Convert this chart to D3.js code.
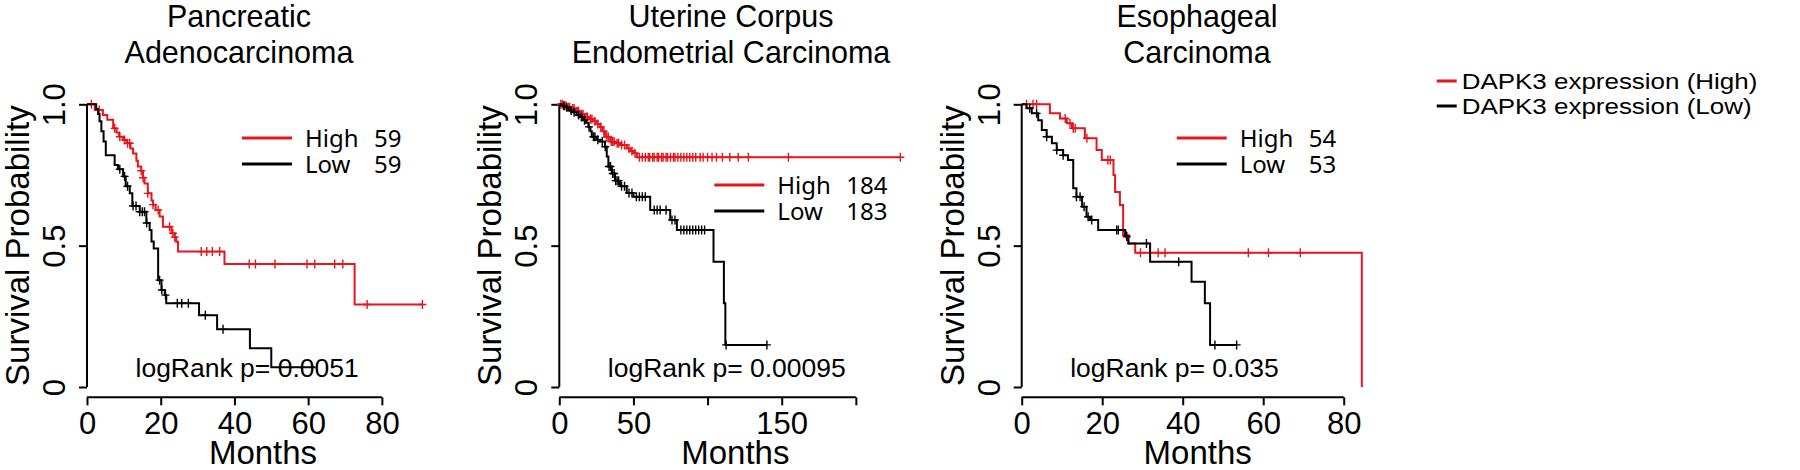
<!DOCTYPE html>
<html>
<head>
<meta charset="utf-8">
<script src="https://cdn.jsdelivr.net/npm/d3@7"></script>
<style>
body { margin:0; background:#fff; }
text { font-family:"Liberation Sans", Arial, sans-serif; fill:#000; }
</style>
</head>
<body>
<div id="chart"></div>
<script>
// ---- data ----
var titles = [["Pancreatic","Adenocarcinoma"], ["Uterine Corpus","Endometrial Carcinoma"], ["Esophageal","Carcinoma"]];
var groupNames = ["High", "Low"];
var groupCounts = [[59, 59], [184, 183], [54, 53]];
var pValues = ["0.0051", "0.00095", "0.035"];
var xTicks = [[0,20,40,60,80], [0,50,100,150,200], [0,20,40,60,80]];
var xTickLabels = [["0","20","40","60","80"], ["0","50","","150",""], ["0","20","40","60","80"]];
var xLimits = [95.5, 237.4, 87.45];
var yTicks = [0, 0.5, 1];
var yTickLabels = ["0", "0.5", "1.0"];
var legendLabels = ["DAPK3 expression (High)", "DAPK3 expression (Low)"];

// [month, survival after the step]
var highSteps1 = [[0,1],[2.1,0.98],[4.3,0.962],[5.5,0.945],[7.1,0.915],[8,0.9],[8.7,0.885],[9.8,0.874],[10.8,0.862],[11.8,0.844],[12.5,0.826],[13.4,0.8],[13.8,0.78],[14.7,0.765],[15.2,0.74],[15.6,0.72],[16.5,0.685],[17.5,0.66],[17.9,0.645],[18.6,0.626],[19.7,0.603],[20.6,0.567],[22.9,0.544],[23.8,0.53],[24.2,0.514],[24.7,0.479],[37.3,0.435],[72.6,0.292]];
var highEnd1 = 91;
var highCensor1 = [1.2,3.3,7.5,8.9,10.2,11,11.6,14.7,15.2,16.5,17.9,19.3,22.4,23.3,23.8,31,32.5,34,36,44,45.7,51,59.7,61.8,67.2,69.4,76,91];
var lowSteps1 = [[0,1],[2.5,0.983],[3,0.966],[3.4,0.94],[3.9,0.905],[4.5,0.868],[5.1,0.82],[7.5,0.785],[8.4,0.77],[9.8,0.745],[10.5,0.71],[11.6,0.685],[12.3,0.64],[14.3,0.62],[16.1,0.58],[17,0.555],[17.5,0.515],[18.1,0.49],[19.3,0.378],[20.2,0.343],[21.1,0.325],[21.5,0.296],[30.4,0.254],[35.3,0.204],[44.2,0.137],[50,0.07]];
var lowEnd1 = 62;
var lowCensor1 = [8.9,10.2,11,12.5,13.3,14.3,15,15.6,16.2,19.7,20.3,21.3,24.5,25.7,27.5,32.1,36.9];

var highSteps2 = [[0,1],[3,0.995],[5,0.99],[8,0.985],[11,0.975],[14,0.965],[17,0.955],[20,0.948],[23,0.94],[25,0.93],[27.5,0.92],[29,0.905],[30.9,0.885],[34.3,0.868],[38,0.862],[41,0.856],[45.5,0.844],[48,0.835],[50,0.827],[52.3,0.8125]];
var highEnd2 = 230;
var highCensor2 = [1,2,3.5,4.5,6,7,9,10,12,13,15,16,18,19,21,22,24,26,28,30,32,33,35,36,37,39,40,42,44,47,49,51,54,56,58,60,61,63,64,66,67,69,70,72,73,75,77,78,80,82,84,86,88,90,92,95,97,100,103,106,110,115,120.7,127.5,154.5,230];
var lowSteps2 = [[0,1],[2,0.995],[4,0.99],[6,0.984],[7.2,0.978],[9,0.972],[11.7,0.962],[14,0.955],[16.2,0.944],[18,0.935],[19.6,0.92],[21,0.905],[21.9,0.885],[25,0.875],[27.5,0.868],[30.9,0.85],[32,0.815],[33.1,0.78],[35.4,0.755],[37.6,0.73],[41,0.71],[45.5,0.686],[50,0.673],[61.3,0.626],[74.8,0.591],[79.3,0.555],[104,0.443],[111,0.296],[112,0.149]];
var lowEnd2 = 140;
var lowCensor2 = [3,5,8,10,13,15,17,20,23,24,26,29,31,33.5,34.5,36,37,38,39,40,42,44,47,49,52,54,56,58,64,66,68,72,76,78,82,84,86,88,90,92,94,96,98,112.5,140];

var highSteps3 = [[0,1],[7,0.968],[9.5,0.95],[11.2,0.933],[12.5,0.915],[15.7,0.88],[18.6,0.838],[19.9,0.803],[22.8,0.75],[23.2,0.69],[24.4,0.644],[25.2,0.537],[26.5,0.508],[28.2,0.475],[84.5,0]];
var highEnd3 = 84.5;
var highCensor3 = [1.2,2.8,3.7,10.8,12,12.8,13.3,16.2,21.4,22,26,29.5,33.9,35.6,56.3,61.3,69.2];
var lowSteps3 = [[0,1],[1.2,0.986],[2.5,0.968],[4.1,0.944],[5,0.909],[6.2,0.885],[7.5,0.862],[8.7,0.838],[10.3,0.82],[11.5,0.803],[12.8,0.703],[13.6,0.673],[15,0.638],[16.1,0.602],[17,0.591],[19,0.555],[25.7,0.532],[26.5,0.508],[31.9,0.443],[42.2,0.372],[45.5,0.296],[46.8,0.149]];
var lowEnd3 = 53.4;
var lowCensor3 = [2,3.7,6.2,8.7,10.3,13.6,14.5,15.5,16.5,17.4,23.6,24,26.1,31,39,48,53.4];

var curves = [
  [{steps:highSteps1, end:highEnd1, censor:highCensor1}, {steps:lowSteps1, end:lowEnd1, censor:lowCensor1}],
  [{steps:highSteps2, end:highEnd2, censor:highCensor2}, {steps:lowSteps2, end:lowEnd2, censor:lowCensor2}],
  [{steps:highSteps3, end:highEnd3, censor:highCensor3}, {steps:lowSteps3, end:lowEnd3, censor:lowCensor3}]
];

// ---- layout ----
var colors = ["#e5161d", "#000"];
var panelX = [87, 559.3, 1021.7];
var titleX = [239, 731, 1197];
var legendY = [138, 185, 138];
var plotW = 352;
var yTop = 104.3, yBottom = 387, xAxisY = 397.3;

var svg = d3.select("#chart").append("svg")
    .attr("width", 1800)
    .attr("height", 470);
svg.append("rect").attr("width", 1800).attr("height", 470).attr("fill", "#fff");

var y = d3.scaleLinear().domain([0, 1]).range([yBottom, yTop]);

function survAt(steps, t) {
  var s = steps[0][1];
  steps.forEach(function(d) { if (d[0] <= t) s = d[1]; });
  return s;
}

titles.forEach(function(title, i) {
  var g = svg.append("g").attr("transform", "translate(" + panelX[i] + ",0)");
  var x = d3.scaleLinear().domain([0, xLimits[i]]).range([0, plotW]);

  // title
  title.forEach(function(line, k) {
    g.append("text")
      .attr("x", titleX[i] - panelX[i])
      .attr("y", 26.7 + k * 36.7)
      .attr("text-anchor", "middle")
      .style("font-size", "30.5px")
      .text(line);
  });

  // y axis
  var yAxis = g.append("g")
      .call(d3.axisLeft(y).tickValues(yTicks).tickSize(8).tickFormat(function(d, j) { return yTickLabels[j]; }));
  yAxis.select(".domain").attr("d", "M0," + y(0) + "V" + y(1));
  yAxis.selectAll("line, .domain").attr("stroke", "#000").attr("stroke-width", 2);
  yAxis.selectAll("text")
      .attr("x", null).attr("dy", null)
      .attr("text-anchor", "middle")
      .attr("transform", "translate(-22,0) rotate(-90)")
      .style("font-family", "Liberation Sans, Arial, sans-serif")
      .style("font-size", "31px");

  g.append("text")
    .attr("transform", "translate(-58," + ((yTop + yBottom) / 2) + ") rotate(-90)")
    .attr("text-anchor", "middle")
    .style("font-size", "33px")
    .text("Survival Probability");

  // x axis
  var ticks = xTicks[i];
  var xAxis = g.append("g")
      .attr("transform", "translate(0," + xAxisY + ")")
      .call(d3.axisBottom(x).tickValues(ticks).tickSize(8).tickFormat(function(d, j) { return xTickLabels[i][j]; }));
  xAxis.select(".domain").attr("d", "M" + x(ticks[0]) + ",0H" + x(ticks[ticks.length - 1]));
  xAxis.selectAll("line, .domain").attr("stroke", "#000").attr("stroke-width", 2);
  xAxis.selectAll("text")
      .attr("y", 36.5).attr("dy", null)
      .style("font-family", "Liberation Sans, Arial, sans-serif")
      .style("font-size", "31px");

  g.append("text")
    .attr("x", plotW / 2)
    .attr("y", 464)
    .attr("text-anchor", "middle")
    .style("font-size", "33px")
    .text("Months");

  // survival curves
  var line = d3.line()
      .x(function(d) { return x(d[0]); })
      .y(function(d) { return y(d[1]); })
      .curve(d3.curveStepAfter);

  curves[i].forEach(function(c, k) {
    var pts = c.steps.concat([[c.end, c.steps[c.steps.length - 1][1]]]);
    g.append("path")
      .datum(pts)
      .attr("d", line)
      .attr("fill", "none")
      .attr("stroke", colors[k])
      .attr("stroke-width", 2);

    g.selectAll(null)
      .data(c.censor)
      .enter().append("path")
      .attr("d", function(t) {
        var px = x(t), py = y(survAt(c.steps, t));
        return "M" + px + "," + (py - 4.5) + "V" + (py + 4.5) + "M" + (px - 4) + "," + py + "H" + (px + 4);
      })
      .attr("stroke", colors[k])
      .attr("stroke-width", 1.4)
      .attr("fill", "none");
  });

  // in-panel legend
  groupNames.forEach(function(name, k) {
    var ly = legendY[i] + k * 26;
    g.append("line")
      .attr("x1", 155).attr("x2", 205)
      .attr("y1", ly).attr("y2", ly)
      .attr("stroke", colors[k]).attr("stroke-width", 3);
    g.append("text")
      .attr("x", 218).attr("y", ly + 8.5)
      .style("font-family", "'Noto Sans', 'Open Sans', sans-serif")
      .style("font-size", "24px")
      .text(name);
    g.append("text")
      .attr("x", 287).attr("y", ly + 8.5)
      .style("font-family", "'Noto Sans', 'Open Sans', sans-serif")
      .style("font-size", "24px")
      .text(groupCounts[i][k]);
  });

  g.append("text")
    .attr("x", 48.5)
    .attr("y", 377)
    .style("font-size", "26.5px")
    .text("logRank p= " + pValues[i]);
});

// overall legend
var leg = svg.append("g").attr("transform", "translate(1436.7,0)");
legendLabels.forEach(function(lab, k) {
  var ly = 81 + k * 25;
  leg.append("line")
    .attr("x1", 0).attr("x2", 20)
    .attr("y1", ly).attr("y2", ly)
    .attr("stroke", colors[k]).attr("stroke-width", 3);
  leg.append("text")
    .attr("transform", "translate(25," + (ly + 7.5) + ") scale(1.18,1)")
    .style("font-size", "22px")
    .text(lab);
});
</script>
</body>
</html>
